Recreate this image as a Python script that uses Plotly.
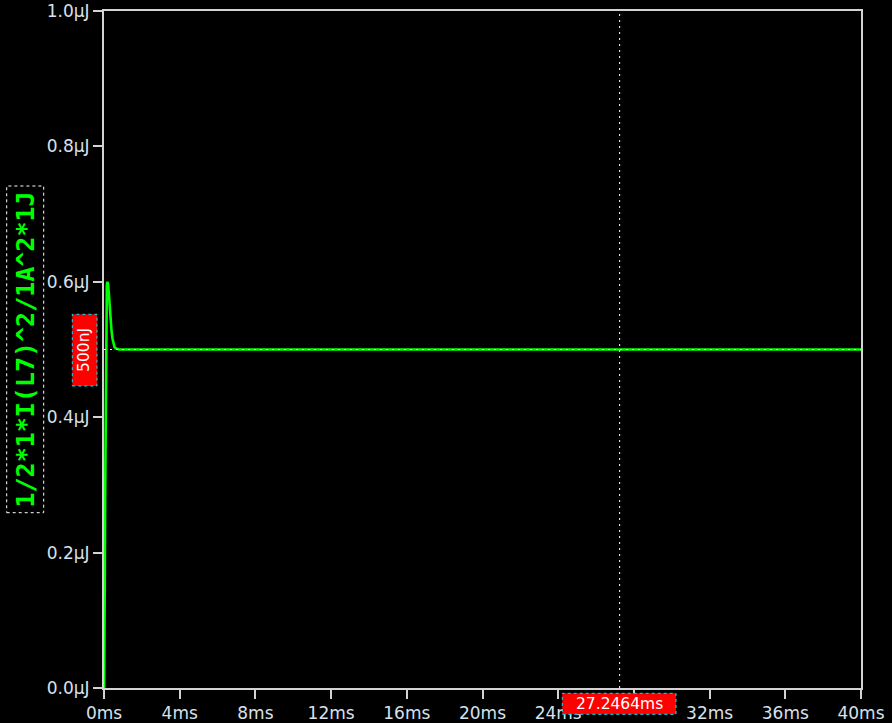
import plotly.graph_objects as go

# Data (time in ms, energy in µJ)
time_ms = [0, 0.02, 0.04, 0.06, 0.08, 0.10, 0.12, 0.15, 0.18, 0.21, 0.25, 0.30,
           0.35, 0.40, 0.45, 0.50, 0.55, 0.60, 0.70, 0.80, 1.0, 2.0, 5.0, 10.0,
           15.0, 20.0, 25.0, 30.0, 35.0, 40.0]
energy_uJ = [0.0, 0.05, 0.15, 0.28, 0.40, 0.50, 0.56, 0.595, 0.60, 0.597, 0.585, 0.562,
             0.543, 0.527, 0.516, 0.509, 0.504, 0.502, 0.5005, 0.5, 0.5, 0.5, 0.5, 0.5,
             0.5, 0.5, 0.5, 0.5, 0.5, 0.5]

x_tickvals = [0, 4, 8, 12, 16, 20, 24, 28, 32, 36, 40]
# the 28ms label is hidden under the cursor read-out box in the original
x_ticktext = ["0ms", "4ms", "8ms", "12ms", "16ms", "20ms", "24ms", "", "32ms", "36ms", "40ms"]
y_tickvals = [0.0, 0.2, 0.4, 0.6, 0.8, 1.0]
y_ticktext = ["0.0µJ", "0.2µJ", "0.4µJ", "0.6µJ", "0.8µJ", "1.0µJ"]

trace_name = "1/2*1*I(L7)^2/1A^2*1J"
cursor_x = 27.2464
cursor_y = 0.5
cursor_x_label = "27.2464ms"
cursor_y_label = "500nJ"

W, H = 892, 723
L, R, T, B = 104, 861, 11, 688
pw, ph = R - L, B - T


def px(x):
    return (x - L) / pw


def py(y):
    return (B - y) / ph


fig = go.Figure()
fig.add_trace(go.Scatter(x=time_ms, y=energy_uJ, mode="lines",
                         line=dict(color="#00ff00", width=2.6), name=trace_name,
                         showlegend=False, hoverinfo="skip"))

axis_common = dict(showline=True, mirror=True, linecolor="#d3d3d3", linewidth=2,
                   ticks="outside", ticklen=9, tickwidth=2, tickcolor="#d3d3d3",
                   showgrid=False, zeroline=False, automargin=False,
                   tickfont=dict(family="DejaVu Sans", size=17, color="#d8e0ea"))

fig.update_layout(
    width=W, height=H,
    margin=dict(l=L, r=W - R, t=T, b=H - B, autoexpand=False),
    paper_bgcolor="black", plot_bgcolor="black",
    xaxis=dict(range=[0, 40], tickvals=x_tickvals, ticktext=x_ticktext, **axis_common),
    yaxis=dict(range=[0, 1.0], tickvals=y_tickvals, ticktext=y_ticktext, **axis_common),
)

# Cursors (dotted white, drawn over the trace)
fig.add_shape(type="line", xref="x", yref="y", x0=0, x1=40, y0=cursor_y, y1=cursor_y,
              line=dict(color="#e8e8e8", width=1, dash="2px,4px"), layer="above")
fig.add_shape(type="line", xref="x", yref="y", x0=cursor_x, x1=cursor_x, y0=0, y1=1,
              line=dict(color="white", width=1, dash="2px,4px"), layer="above")

# Y-axis label box
fig.add_shape(type="rect", xref="paper", yref="paper",
              x0=px(6.7), x1=px(43.7), y0=py(512.7), y1=py(186),
              line=dict(color="white", width=1, dash="dot"), fillcolor="black", layer="above")
fig.add_annotation(xref="paper", yref="paper", x=px(25.2), y=py(349.3), text=trace_name,
                   textangle=-90, showarrow=False,
                   font=dict(family="DejaVu Sans Mono", size=25, color="#00ff00", weight="bold"),
                   xanchor="center", yanchor="middle")

# Cursor value boxes
fig.add_shape(type="rect", xref="paper", yref="paper",
              x0=px(72.3), x1=px(97), y0=py(386), y1=py(314.3),
              line=dict(color="#00e5ff", width=1, dash="dot"), fillcolor="#ff0000", layer="above")
fig.add_annotation(xref="paper", yref="paper", x=px(84.7), y=py(350.2), text=cursor_y_label,
                   textangle=-90, showarrow=False,
                   font=dict(family="DejaVu Sans", size=15.5, color="white"),
                   xanchor="center", yanchor="middle")
fig.add_shape(type="rect", xref="paper", yref="paper",
              x0=px(562.3), x1=px(676), y0=py(714.3), y1=py(693.3),
              line=dict(color="#00e5ff", width=1, dash="dot"), fillcolor="#ff0000", layer="above")
fig.add_annotation(xref="paper", yref="paper", x=px(619.2), y=py(703.8), text=cursor_x_label,
                   showarrow=False,
                   font=dict(family="DejaVu Sans", size=15.5, color="white"),
                   xanchor="center", yanchor="middle")

fig.write_html(
    "out.html",
    config={"displayModeBar": False},
    post_script=("document.body.style.margin='0';"
                 "document.body.style.background='black';"
                 "document.documentElement.style.overflow='hidden';"),
)
